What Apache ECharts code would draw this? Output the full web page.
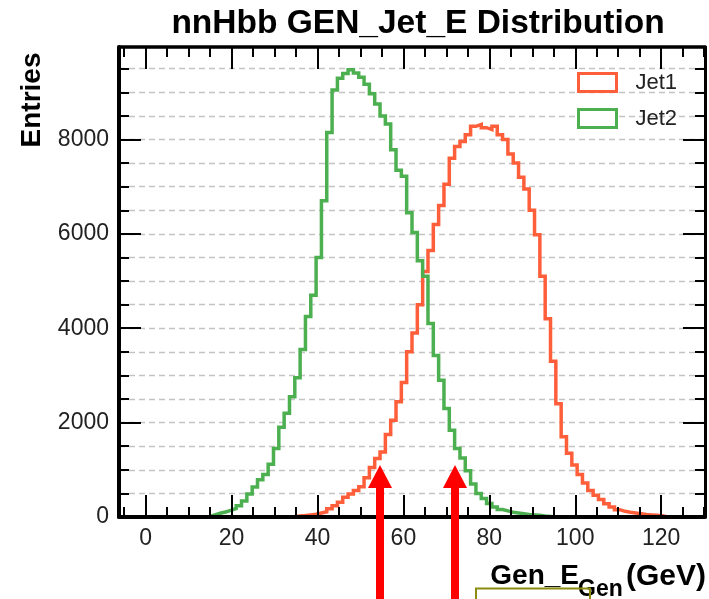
<!DOCTYPE html>
<html><head><meta charset="utf-8">
<script src="https://cdn.jsdelivr.net/npm/echarts@6/dist/echarts.min.js"></script>
<style>html,body{margin:0;padding:0;background:#fff}#c{width:709px;height:599px}</style>
</head><body><div id="c"></div>
<script>
// ---- data ----
const titleText = 'nnHbb GEN_Jet_E Distribution';
const seriesNames = ['Jet1', 'Jet2'];
const seriesColors = ['#ff5e3a', '#4caf50'];
const binStart = 0;
const binWidth = 1.24;
const jet1 = [
  0,0,0,0,0,0,0,0,0,0, 0,0,0,0,0,0,0,0,0,0, 0,0,0,0,0,0,0,
  5,20,30,45,60,85,110,175,240,315,420,490,560,640,830,1050,1240,1380,1750,2050,
  2440,2850,3500,3900,4500,5200,5650,6200,6600,7050,7600,7850,7960,8100,8280,8320,
  8250,8210,8280,8100,8000,7690,7500,7200,6950,6500,5980,5100,4200,3300,2400,1700,
  1350,1100,900,720,560,460,370,280,210,155,120,100,85,70,55,45,35,25,
  0,0,0
];
const jet2 = [
  0,0,0,0,0,0,0,0,0,0,0,
  10,45,80,105,140,180,240,340,490,634,790,900,1120,1450,1900,2200,2550,2950,3550,
  4250,4700,5500,6700,8150,9050,9300,9400,9480,9410,9320,9170,8970,8750,8500,8330,
  7780,7350,7220,6450,6030,5430,5100,4100,3420,2900,2300,1840,1450,1250,980,700,500,
  390,285,210,160,130,100,85,70,55,45,35,20,10,
  0,0,0,0,0,0,0,0,0,0,0,0,0,0,0,0,0,0,0,0,0,0,0,0
];
const xTickLabels = [0, 20, 40, 60, 80, 100, 120];
const yTickLabels = [0, 2000, 4000, 6000, 8000];
const xName = ['Gen_E', 'Gen', '(GeV)'];
const yName = 'Entries';
const xMin = -6.2, xMax = 130.2, yMin = 0, yMax = 9960;

// ---- build ----
function stepPoints(vals) {
  const pts = [];
  for (let i = 0; i < vals.length; i++) {
    const x0 = binStart + i * binWidth, x1 = binStart + (i + 1) * binWidth;
    pts.push([x0, vals[i]], [x1, vals[i]]);
  }
  return pts;
}
const FONT = 'Liberation Sans, Arial, Helvetica, sans-serif';
const chart = echarts.init(document.getElementById('c'), null, {renderer: 'canvas'});

function xAxisCfg(pos, labels) {
  return {
    type: 'value', position: pos, min: xMin, max: xMax, minInterval: 20, maxInterval: 20,
    z: 10,
    axisLine: {show: true, onZero: false, lineStyle: {color: '#000', width: pos === 'bottom' ? 4 : 3.5}},
    axisTick: {show: true, inside: true, length: 22, lineStyle: {color: '#000', width: 2}},
    minorTick: {show: true, splitNumber: 4, length: 10, lineStyle: {color: '#000', width: 2}},
    axisLabel: {show: labels, showMinLabel: false, showMaxLabel: false, margin: 10,
      fontSize: 23, color: '#222', fontFamily: FONT,
      formatter: v => xTickLabels.includes(v) ? String(v) : ''},
    splitLine: {show: false}
  };
}
function yAxisCfg(pos, labels, width) {
  return {
    type: 'value', position: pos, min: yMin, max: yMax, interval: 2000, z: 10,
    axisLine: {show: true, onZero: false, lineStyle: {color: '#000', width: width}},
    axisTick: {show: true, inside: true, length: 22, lineStyle: {color: '#000', width: 2}},
    minorTick: {show: true, splitNumber: 4, length: 10, lineStyle: {color: '#000', width: 2}},
    axisLabel: {show: labels, showMaxLabel: false, margin: 10, fontSize: 23, color: '#222', fontFamily: FONT,
      formatter: v => yTickLabels.includes(v) ? String(v) : ''},
    splitLine: {show: false}
  };
}
const gridAxisY = {
  type: 'value', position: 'left', min: yMin, max: yMax, interval: 2000, z: 0,
  axisLine: {show: false}, axisTick: {show: false}, axisLabel: {show: false},
  minorTick: {show: false, splitNumber: 4},
  splitLine: {show: true, lineStyle: {color: '#c4c4c4', width: 1.3, type: [6, 4]}},
  minorSplitLine: {show: true, lineStyle: {color: '#c4c4c4', width: 1.3, type: [6, 4]}}
};

const option = {
  backgroundColor: '#fff',
  animation: false,
  title: {
    text: titleText, left: 413, top: 2, textAlign: 'center',
    textStyle: {fontSize: 33.5, fontWeight: 'bold', color: '#000', fontFamily: FONT}
  },
  grid: {left: 119, right: 4, top: 47, bottom: 82, containLabel: false},
  legend: {
    orient: 'vertical', left: 572, top: 66.5, itemWidth: 38, itemHeight: 18, itemGap: 14,
    textStyle: {fontSize: 22, color: '#222', fontFamily: FONT, padding: [0, 0, 0, 14]},
    data: seriesNames.map((n, i) => ({
      name: n, icon: 'rect',
      itemStyle: {color: '#fff', borderColor: seriesColors[i], borderWidth: 3}
    }))
  },
  xAxis: [xAxisCfg('bottom', true), xAxisCfg('top', false)],
  yAxis: [yAxisCfg('left', true, 4), yAxisCfg('right', false, 3), gridAxisY],
  series: [jet1, jet2].map((vals, i) => ({
    name: seriesNames[i], type: 'line', xAxisIndex: 0, yAxisIndex: 0, z: 2,
    data: stepPoints(vals), showSymbol: false, symbol: 'none',
    color: seriesColors[i],
    lineStyle: {color: seriesColors[i], width: 3.5, join: 'miter'}
  })),
  graphic: [
    {type: 'text', x: 32, y: 100, rotation: Math.PI / 2, z: 20,
      style: {text: yName, fontSize: 28, fontWeight: 'bold', fill: '#000', fontFamily: FONT,
        align: 'center', verticalAlign: 'middle'}},
    {type: 'text', x: 579, y: 576, z: 20,
      style: {text: xName[0], fontSize: 28, fontWeight: 'bold', fill: '#000', fontFamily: FONT,
        align: 'right', verticalAlign: 'middle'}},
    {type: 'text', x: 578, y: 590, z: 20,
      style: {text: xName[1], fontSize: 23, fontWeight: 'bold', fill: '#000', fontFamily: FONT,
        align: 'left', verticalAlign: 'middle'}},
    {type: 'text', x: 706, y: 577, z: 20,
      style: {text: xName[2], fontSize: 30, fontWeight: 'bold', fill: '#000', fontFamily: FONT,
        align: 'right', verticalAlign: 'middle'}},
    // annotation arrows
    {type: 'rect', z: 30, shape: {x: 376, y: 487, width: 8, height: 120}, style: {fill: '#ff0000'}},
    {type: 'polygon', z: 30, shape: {points: [[368, 488], [392, 488], [380, 465]]}, style: {fill: '#ff0000'}},
    {type: 'rect', z: 30, shape: {x: 451, y: 487, width: 8, height: 120}, style: {fill: '#ff0000'}},
    {type: 'polygon', z: 30, shape: {points: [[443, 488], [467, 488], [455, 465]]}, style: {fill: '#ff0000'}},
    // annotation box
    {type: 'rect', z: 30, shape: {x: 476, y: 588.5, width: 114, height: 20},
      style: {fill: 'none', stroke: '#8c8c10', lineWidth: 2}}
  ]
};
chart.setOption(option);
</script>
</body></html>
